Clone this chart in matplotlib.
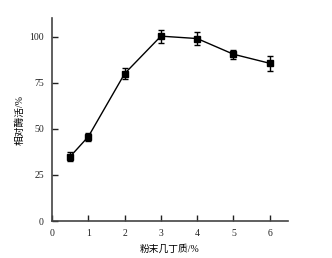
import matplotlib.pyplot as plt

# 数据
x = [0.5, 1, 2, 3, 4, 5, 6]
y = [35.0, 45.8, 79.9, 100.2, 98.9, 90.4, 85.5]
err = [2.5, 2.2, 3.0, 3.6, 3.6, 2.5, 4.0]
xticks = [0, 1, 2, 3, 4, 5, 6]
yticks = [0, 25, 50, 75, 100]

plt.rcParams['font.family'] = ['Liberation Serif', 'Noto Sans CJK SC']

fig = plt.figure(figsize=(3.32, 2.58), dpi=100)
ax = fig.add_axes([0.157, 0.143, 0.71, 0.787])

ax.errorbar(x, y, yerr=err, color='black', marker='s', markersize=5,
            linewidth=1, elinewidth=1, capsize=2.5, capthick=1)

ax.set_xlim(0, 6.5)
ax.set_ylim(0, 110)
ax.set_xticks(xticks)
ax.set_yticks(yticks)

for side in ['top', 'right']:
    ax.spines[side].set_visible(False)
for side in ['left', 'bottom']:
    ax.spines[side].set_color('#444444')
    ax.spines[side].set_linewidth(1.2)

ax.tick_params(direction='in', length=4, width=1, labelsize=7, pad=6, colors='#222222')

ax.set_xlabel('粉末几丁质/%', fontsize=7, labelpad=4)
ax.set_ylabel('相对酶活/%', fontsize=7, labelpad=3)

fig.savefig('out.png', dpi=100)
